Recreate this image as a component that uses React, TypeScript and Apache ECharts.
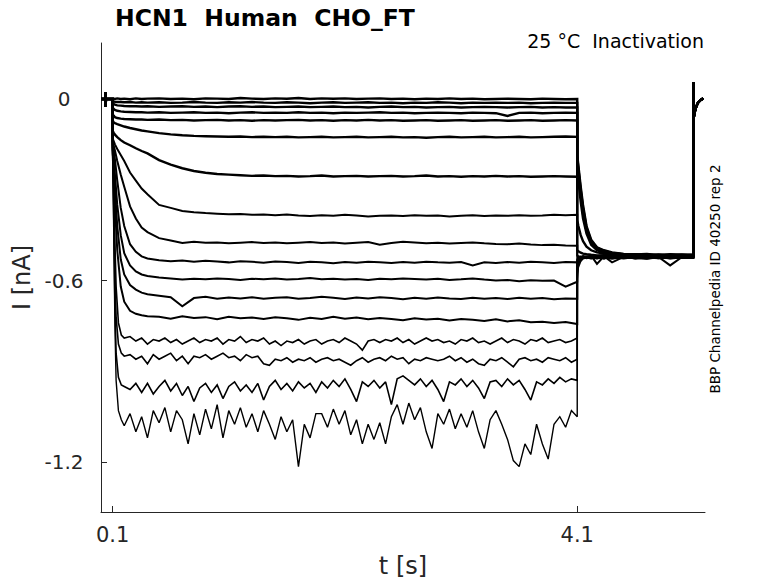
import React, { useEffect, useRef } from "react";
import * as echarts from "echarts";

// ---- tick labels ----
const X_TICKS = [0.1, 4.1];
const Y_TICKS = [0, -0.6, -1.2];

// ---- holding segment before the step (shared by every sweep) ----
const PRE_T = [0, 0.039, 0.04, 0.041, 0.042, 0.1];
const PRE_V = [0, 0, 0.023, -0.026, 0, 0];

// ---- time grids of the test pulse (s) ----
const GRID_A = [
  0.1, 0.11, 0.12, 0.14, 0.17, 0.2, 0.25, 0.3, 0.35, 0.4,
  0.5, 0.6, 0.7, 0.8, 0.9, 1.0, 1.1, 1.2, 1.3, 1.4,
  1.5, 1.6, 1.7, 1.8, 1.9, 2.0, 2.1, 2.2, 2.3, 2.4,
  2.5, 2.6, 2.7, 2.8, 2.9, 3.0, 3.1, 3.2, 3.3, 3.4,
  3.5, 3.6, 3.7, 3.8, 3.9, 4.0, 4.1,
];
const GRID_B = [
  0.1, 0.11, 0.12, 0.13, 0.15, 0.175, 0.2, 0.25, 0.3, 0.35,
  0.4, 0.45, 0.5, 0.55, 0.6, 0.65, 0.7, 0.75, 0.8, 0.85,
  0.9, 0.95, 1.0, 1.05, 1.1, 1.15, 1.2, 1.25, 1.3, 1.35,
  1.4, 1.45, 1.5, 1.55, 1.6, 1.65, 1.7, 1.75, 1.8, 1.85,
  1.9, 1.95, 2.0, 2.05, 2.1, 2.15, 2.2, 2.25, 2.3, 2.35,
  2.4, 2.45, 2.5, 2.55, 2.6, 2.65, 2.7, 2.75, 2.8, 2.85,
  2.9, 2.95, 3.0, 3.05, 3.1, 3.15, 3.2, 3.25, 3.3, 3.35,
  3.4, 3.45, 3.5, 3.55, 3.6, 3.65, 3.7, 3.75, 3.8, 3.85,
  3.9, 3.95, 4.0, 4.05, 4.1,
];

// ---- pulse currents (nA), sweeps 1..13 on GRID_A ----
const PULSE_01 = [
  0, 0.001, 0, 0.002, 0, 0.001, -0.001, 0.002, 0, 0.001,
  0.002, 0, 0.001, -0.001, 0.002, 0.001, 0, 0.003, 0.001, 0,
  0.002, 0.001, 0.003, 0, 0.002, 0.001, 0.002, 0, 0.001, 0.002,
  0, 0.001, -0.001, 0.001, 0, 0.002, 0, 0.001, -0.001, 0,
  0.001, 0, -0.001, 0.001, 0, -0.001, 0,
];
const PULSE_02 = [
  -0.006, -0.008, -0.009, -0.01, -0.01, -0.011, -0.01, -0.012, -0.011, -0.012,
  -0.011, -0.013, -0.012, -0.01, -0.012, -0.013, -0.011, -0.012, -0.01, -0.012,
  -0.013, -0.011, -0.012, -0.014, -0.012, -0.011, -0.013, -0.012, -0.011, -0.013,
  -0.012, -0.014, -0.012, -0.013, -0.011, -0.012, -0.014, -0.012, -0.013, -0.012,
  -0.013, -0.012, -0.014, -0.013, -0.012, -0.013, -0.013,
];
const PULSE_03 = [
  -0.014, -0.017, -0.019, -0.021, -0.022, -0.023, -0.024, -0.024, -0.025, -0.024,
  -0.026, -0.025, -0.024, -0.026, -0.025, -0.027, -0.025, -0.024, -0.026, -0.025,
  -0.027, -0.026, -0.025, -0.027, -0.026, -0.025, -0.027, -0.026, -0.028, -0.026,
  -0.025, -0.027, -0.026, -0.028, -0.027, -0.026, -0.028, -0.027, -0.026, -0.027,
  -0.028, -0.027, -0.026, -0.028, -0.027, -0.028, -0.028,
];
const PULSE_04 = [
  -0.028, -0.033, -0.036, -0.039, -0.041, -0.042, -0.043, -0.044, -0.044, -0.045,
  -0.044, -0.046, -0.045, -0.044, -0.046, -0.045, -0.047, -0.045, -0.044, -0.046,
  -0.045, -0.046, -0.044, -0.046, -0.045, -0.047, -0.045, -0.046, -0.045, -0.044,
  -0.046, -0.045, -0.047, -0.046, -0.045, -0.046, -0.047, -0.045, -0.046, -0.047,
  -0.056, -0.046, -0.045, -0.047, -0.046, -0.045, -0.046,
];
const PULSE_05 = [
  -0.05, -0.056, -0.06, -0.063, -0.065, -0.066, -0.067, -0.068, -0.068, -0.069,
  -0.068, -0.07, -0.069, -0.071, -0.07, -0.069, -0.071, -0.07, -0.072, -0.07,
  -0.071, -0.07, -0.069, -0.071, -0.07, -0.072, -0.07, -0.071, -0.069, -0.071,
  -0.07, -0.072, -0.071, -0.07, -0.072, -0.071, -0.07, -0.072, -0.071, -0.07,
  -0.072, -0.071, -0.07, -0.072, -0.071, -0.07, -0.071,
];
const PULSE_06 = [
  -0.07, -0.078, -0.08, -0.083, -0.087, -0.091, -0.096, -0.1, -0.104, -0.107,
  -0.113, -0.117, -0.12, -0.122, -0.123, -0.124, -0.125, -0.124, -0.126, -0.125,
  -0.126, -0.125, -0.127, -0.126, -0.125, -0.127, -0.126, -0.125, -0.127, -0.126,
  -0.125, -0.127, -0.126, -0.128, -0.126, -0.125, -0.127, -0.126, -0.125, -0.127,
  -0.126, -0.125, -0.127, -0.126, -0.125, -0.124, -0.125,
];
const PULSE_07 = [
  -0.105, -0.112, -0.118, -0.126, -0.136, -0.144, -0.153, -0.163, -0.172, -0.18,
  -0.202, -0.217, -0.229, -0.238, -0.244, -0.248, -0.25, -0.252, -0.254, -0.253,
  -0.255, -0.254, -0.256, -0.255, -0.253, -0.256, -0.255, -0.254, -0.256, -0.255,
  -0.254, -0.256, -0.255, -0.253, -0.256, -0.255, -0.257, -0.255, -0.256, -0.254,
  -0.256, -0.255, -0.257, -0.256, -0.255, -0.256, -0.257,
];
const PULSE_08 = [
  -0.13, -0.14, -0.15, -0.165, -0.185, -0.205, -0.243, -0.27, -0.296, -0.315,
  -0.35, -0.36, -0.37, -0.374, -0.377, -0.379, -0.381, -0.38, -0.383, -0.382,
  -0.384, -0.382, -0.385, -0.387, -0.384, -0.386, -0.383, -0.385, -0.388, -0.386,
  -0.385, -0.387, -0.384, -0.386, -0.385, -0.388, -0.386, -0.384, -0.387, -0.385,
  -0.386, -0.384, -0.386, -0.385, -0.383, -0.384, -0.383,
];
const PULSE_09 = [
  -0.14, -0.155, -0.17, -0.205, -0.25, -0.29, -0.355, -0.395, -0.425, -0.44,
  -0.46, -0.468, -0.476, -0.472, -0.475, -0.474, -0.477, -0.475, -0.473, -0.476,
  -0.474, -0.477, -0.475, -0.473, -0.476, -0.474, -0.478, -0.475, -0.473, -0.482,
  -0.476, -0.472, -0.474, -0.477, -0.475, -0.478, -0.476, -0.474, -0.477, -0.479,
  -0.48, -0.478, -0.481, -0.483, -0.482, -0.484, -0.485,
];
const PULSE_10 = [
  -0.15, -0.17, -0.2, -0.27, -0.36, -0.42, -0.48, -0.505, -0.52, -0.527,
  -0.533, -0.536, -0.534, -0.538, -0.535, -0.537, -0.54, -0.536, -0.538, -0.541,
  -0.537, -0.539, -0.542, -0.538, -0.54, -0.543, -0.539, -0.541, -0.538, -0.54,
  -0.542, -0.539, -0.541, -0.538, -0.54, -0.541, -0.539, -0.55, -0.54, -0.542,
  -0.539, -0.541, -0.538, -0.54, -0.542, -0.539, -0.54,
];
const PULSE_11 = [
  -0.16, -0.2, -0.25, -0.35, -0.45, -0.51, -0.55, -0.57, -0.58, -0.585,
  -0.59, -0.593, -0.597, -0.594, -0.596, -0.593, -0.595, -0.598, -0.594, -0.596,
  -0.593, -0.597, -0.595, -0.592, -0.596, -0.594, -0.597, -0.595, -0.598, -0.594,
  -0.596, -0.593, -0.595, -0.597, -0.594, -0.598, -0.596, -0.593, -0.597, -0.6,
  -0.598, -0.602, -0.599, -0.601, -0.6, -0.62, -0.604,
];
const PULSE_12 = [
  -0.17, -0.23, -0.3, -0.42, -0.53, -0.58, -0.615, -0.63, -0.64, -0.645,
  -0.65, -0.655, -0.685, -0.658, -0.654, -0.66, -0.656, -0.659, -0.655, -0.66,
  -0.657, -0.655, -0.66, -0.658, -0.654, -0.657, -0.661, -0.656, -0.659, -0.655,
  -0.658, -0.662, -0.657, -0.66, -0.656, -0.659, -0.661, -0.657, -0.66, -0.658,
  -0.661, -0.657, -0.66, -0.658, -0.662, -0.659, -0.66,
];
const PULSE_13 = [
  -0.18, -0.26, -0.35, -0.5, -0.62, -0.67, -0.7, -0.71, -0.715, -0.718,
  -0.72, -0.726, -0.718, -0.724, -0.721, -0.728, -0.72, -0.725, -0.722, -0.727,
  -0.721, -0.725, -0.73, -0.723, -0.727, -0.72, -0.726, -0.722, -0.728, -0.724,
  -0.727, -0.731, -0.725, -0.729, -0.726, -0.732, -0.727, -0.73, -0.734, -0.728,
  -0.735, -0.731, -0.738, -0.736, -0.74, -0.737, -0.744,
];

// ---- pulse currents (nA), noisier sweeps 14..17 on GRID_B ----
const PULSE_14 = [
  -0.14, -0.3, -0.48, -0.62, -0.74, -0.78, -0.79, -0.785, -0.8, -0.79,
  -0.81, -0.795, -0.8, -0.79, -0.805, -0.795, -0.81, -0.8, -0.79, -0.805,
  -0.795, -0.8, -0.79, -0.81, -0.795, -0.8, -0.785, -0.805, -0.795, -0.8,
  -0.79, -0.81, -0.8, -0.815, -0.8, -0.805, -0.795, -0.81, -0.8, -0.795,
  -0.81, -0.8, -0.795, -0.805, -0.79, -0.8, -0.81, -0.83, -0.8, -0.795,
  -0.805, -0.795, -0.8, -0.79, -0.805, -0.795, -0.81, -0.8, -0.79, -0.8,
  -0.795, -0.805, -0.8, -0.81, -0.795, -0.8, -0.79, -0.805, -0.8, -0.81,
  -0.8, -0.79, -0.805, -0.795, -0.8, -0.81, -0.795, -0.8, -0.79, -0.805,
  -0.8, -0.795, -0.805, -0.8, -0.79,
];
const PULSE_15 = [
  -0.15, -0.35, -0.58, -0.72, -0.81, -0.84, -0.85, -0.845, -0.86, -0.85,
  -0.875, -0.845, -0.86, -0.85, -0.84, -0.865, -0.85, -0.875, -0.85, -0.855,
  -0.845, -0.86, -0.85, -0.84, -0.855, -0.85, -0.865, -0.845, -0.855, -0.85,
  -0.875, -0.88, -0.86, -0.865, -0.855, -0.87, -0.86, -0.865, -0.855, -0.87,
  -0.86, -0.855, -0.865, -0.86, -0.87, -0.88, -0.865, -0.855, -0.87, -0.86,
  -0.855, -0.865, -0.85, -0.86, -0.855, -0.875, -0.86, -0.865, -0.855, -0.86,
  -0.865, -0.86, -0.85, -0.865, -0.855, -0.87, -0.86, -0.875, -0.88, -0.86,
  -0.865, -0.855, -0.87, -0.885, -0.86, -0.855, -0.865, -0.86, -0.87, -0.855,
  -0.86, -0.865, -0.855, -0.87, -0.86,
];
const PULSE_16 = [
  -0.155, -0.4, -0.68, -0.84, -0.92, -0.945, -0.95, -0.96, -0.94, -0.97,
  -0.94, -0.975, -0.95, -0.93, -0.965, -0.94, -0.98, -0.95, -1.0, -0.955,
  -0.94, -0.97, -0.945, -0.99, -0.95, -0.935, -0.965, -0.945, -0.97, -0.94,
  -0.995, -0.95, -0.93, -0.96, -0.94, -0.965, -0.935, -0.955, -0.94, -0.97,
  -0.935, -0.955, -0.93, -0.95, -0.925, -0.96, -1.0, -0.935, -0.95, -0.93,
  -0.955, -0.935, -1.01, -0.925, -0.915, -0.93, -0.945, -0.925, -0.95, -0.93,
  -0.96, -1.0, -0.935, -0.945, -0.925, -0.95, -0.93, -0.955, -0.99, -0.935,
  -0.93, -0.95, -0.925, -0.945, -0.93, -0.96, -0.995, -0.935, -0.945, -0.925,
  -0.94, -0.92, -0.935, -0.925, -0.93,
];
const PULSE_17 = [
  -0.16, -0.45, -0.75, -0.93, -1.03, -1.06, -1.08, -1.04, -1.1, -1.05,
  -1.12, -1.03, -1.07, -1.02, -1.1, -1.03, -1.06, -1.14, -1.04, -1.11,
  -1.025, -1.09, -1.01, -1.12, -1.03, -1.075, -1.02, -1.085, -1.04, -1.1,
  -1.03, -1.075, -1.125, -1.05, -1.1, -1.06, -1.215, -1.075, -1.12, -1.04,
  -1.04, -1.085, -1.025, -1.075, -1.03, -1.11, -1.06, -1.14, -1.075, -1.125,
  -1.07, -1.14, -1.05, -1.01, -1.075, -1.005, -1.06, -1.02, -1.1, -1.155,
  -1.04, -1.075, -1.025, -1.09, -1.04, -1.085, -1.03, -1.1, -1.155, -1.06,
  -1.03, -1.075, -1.125, -1.195, -1.215, -1.14, -1.175, -1.075, -1.14, -1.19,
  -1.075, -1.05, -1.085, -1.03, -1.05,
];

// ---- tail segment (s) and tail currents (nA) ----
const TAIL_T = [4.1, 4.11, 4.13, 4.15, 4.18, 4.22, 4.27, 4.33, 4.4, 4.5, 4.6, 4.7, 4.8, 4.9, 5.0, 5.1];
const TAIL_01 = [-0.185, -0.22, -0.29, -0.35, -0.42, -0.465, -0.49, -0.5, -0.507, -0.512, -0.514, -0.512, -0.516, -0.513, -0.515, -0.514];
const TAIL_02 = [-0.19, -0.23, -0.3, -0.36, -0.425, -0.47, -0.492, -0.502, -0.509, -0.513, -0.515, -0.517, -0.514, -0.516, -0.514, -0.516];
const TAIL_03 = [-0.2, -0.24, -0.31, -0.37, -0.43, -0.473, -0.495, -0.504, -0.51, -0.514, -0.516, -0.513, -0.517, -0.515, -0.518, -0.515];
const TAIL_04 = [-0.21, -0.25, -0.32, -0.38, -0.435, -0.476, -0.497, -0.506, -0.512, -0.515, -0.513, -0.517, -0.515, -0.518, -0.516, -0.517];
const TAIL_05 = [-0.235, -0.27, -0.34, -0.395, -0.445, -0.482, -0.5, -0.508, -0.513, -0.516, -0.518, -0.515, -0.519, -0.516, -0.518, -0.517];
const TAIL_06 = [-0.4, -0.42, -0.45, -0.47, -0.488, -0.5, -0.507, -0.511, -0.514, -0.517, -0.515, -0.519, -0.516, -0.518, -0.52, -0.518];
const TAIL_07 = [-0.5, -0.503, -0.508, -0.511, -0.513, -0.515, -0.517, -0.516, -0.519, -0.517, -0.52, -0.518, -0.521, -0.519, -0.517, -0.519];
const TAIL_08 = [-0.517, -0.52, -0.522, -0.519, -0.521, -0.518, -0.545, -0.52, -0.523, -0.519, -0.521, -0.524, -0.52, -0.522, -0.519, -0.521];
const TAIL_09 = [-0.522, -0.524, -0.521, -0.525, -0.522, -0.52, -0.523, -0.526, -0.522, -0.524, -0.521, -0.523, -0.525, -0.522, -0.524, -0.522];
const TAIL_10 = [-0.527, -0.522, -0.525, -0.521, -0.524, -0.527, -0.523, -0.52, -0.54, -0.522, -0.526, -0.523, -0.521, -0.525, -0.523, -0.522];
const TAIL_11 = [-0.532, -0.527, -0.523, -0.526, -0.522, -0.525, -0.521, -0.524, -0.527, -0.523, -0.525, -0.522, -0.526, -0.524, -0.521, -0.523];
const TAIL_12 = [-0.537, -0.53, -0.525, -0.522, -0.526, -0.523, -0.527, -0.522, -0.525, -0.521, -0.524, -0.527, -0.522, -0.55, -0.523, -0.525];
const TAIL_13 = [-0.542, -0.532, -0.526, -0.524, -0.521, -0.525, -0.522, -0.526, -0.523, -0.527, -0.522, -0.524, -0.526, -0.523, -0.525, -0.522];
const TAIL_14 = [-0.552, -0.537, -0.528, -0.523, -0.526, -0.522, -0.525, -0.528, -0.522, -0.524, -0.527, -0.523, -0.525, -0.522, -0.526, -0.524];
const TAIL_15 = [-0.562, -0.542, -0.53, -0.525, -0.522, -0.526, -0.523, -0.527, -0.524, -0.522, -0.528, -0.525, -0.523, -0.527, -0.524, -0.526];
const TAIL_16 = [-0.577, -0.547, -0.532, -0.526, -0.524, -0.527, -0.522, -0.525, -0.528, -0.523, -0.526, -0.529, -0.524, -0.526, -0.523, -0.525];
const TAIL_17 = [-0.597, -0.557, -0.537, -0.528, -0.525, -0.523, -0.527, -0.524, -0.526, -0.522, -0.525, -0.527, -0.523, -0.528, -0.525, -0.524];

// ---- return to holding (shared) ----
const END_T = [5.1, 5.101, 5.11, 5.125, 5.14, 5.16, 5.185];
const END_V = [0.056, -0.068, -0.045, -0.025, -0.012, -0.004, 0.002];

const PULSES = [
  PULSE_01, PULSE_02, PULSE_03, PULSE_04, PULSE_05, PULSE_06, PULSE_07, PULSE_08, PULSE_09,
  PULSE_10, PULSE_11, PULSE_12, PULSE_13, PULSE_14, PULSE_15, PULSE_16, PULSE_17,
];
const TAILS = [
  TAIL_01, TAIL_02, TAIL_03, TAIL_04, TAIL_05, TAIL_06, TAIL_07, TAIL_08, TAIL_09,
  TAIL_10, TAIL_11, TAIL_12, TAIL_13, TAIL_14, TAIL_15, TAIL_16, TAIL_17,
];

const FONT = "DejaVu Sans";
const INK = "#262626";

function sweepData(i: number): number[][] {
  const pulse = PULSES[i];
  const grid = pulse.length === GRID_B.length ? GRID_B : GRID_A;
  const out: number[][] = [];
  PRE_T.forEach((t, k) => out.push([t, PRE_V[k]]));
  grid.forEach((t, k) => {
    if (k < pulse.length) out.push([t, pulse[k]]);
  });
  TAIL_T.forEach((t, k) => {
    if (k < TAILS[i].length) out.push([t, TAILS[i][k]]);
  });
  END_T.forEach((t, k) => out.push([t, END_V[k]]));
  return out;
}

function widthOf(i: number): number {
  if (i < 7) return 2.4;
  if (i < 13) return 2.0;
  if (i < 16) return 1.6;
  return 1.4;
}

export default function App() {
  const ref = useRef<HTMLDivElement>(null);

  useEffect(() => {
    if (!ref.current) return;
    const chart = echarts.init(ref.current, undefined, { renderer: "svg" });

    const series = PULSES.map((_, i) => ({
      type: "line",
      name: "sweep " + (i + 1),
      data: sweepData(i),
      showSymbol: false,
      symbol: "none",
      silent: true,
      lineStyle: { color: "#000000", width: widthOf(i), join: "miter", miterLimit: 2 },
      clip: true,
    }));

    chart.setOption({
      animation: false,
      backgroundColor: "#ffffff",
      title: {
        text: "HCN1  Human  CHO_FT",
        left: 115,
        top: 6,
        padding: 0,
        textStyle: { fontFamily: FONT, fontSize: 23.5, fontWeight: "bold", color: "#000000" },
      },
      grid: {
        left: 101,
        top: 43,
        right: 73,
        bottom: 71,
        containLabel: false,
        outerBoundsMode: "none",
      },
      xAxis: {
        type: "value",
        min: 0,
        max: 5.2,
        name: "t [s]",
        nameLocation: "middle",
        nameGap: 42,
        nameTextStyle: { fontFamily: FONT, fontSize: 24, color: INK },
        axisLine: { show: true, onZero: false, lineStyle: { color: INK, width: 1 } },
        axisTick: { show: true, inside: true, length: 6, customValues: X_TICKS, lineStyle: { color: INK } },
        axisLabel: {
          customValues: X_TICKS,
          fontFamily: FONT,
          fontSize: 21,
          color: INK,
          margin: 12,
          formatter: (v: number) => String(v),
        },
        splitLine: { show: false },
      },
      yAxis: {
        type: "value",
        min: -1.365,
        max: 0.185,
        name: "I [nA]",
        nameLocation: "middle",
        nameRotate: 90,
        nameGap: 58,
        nameTextStyle: { fontFamily: FONT, fontSize: 24, color: INK },
        axisLine: { show: true, onZero: false, lineStyle: { color: INK, width: 1 } },
        axisTick: { show: true, inside: true, length: 6, customValues: Y_TICKS, lineStyle: { color: INK } },
        axisLabel: {
          customValues: Y_TICKS,
          fontFamily: FONT,
          fontSize: 20,
          color: INK,
          align: "center",
          margin: 37,
          formatter: (v: number) => String(v),
        },
        splitLine: { show: false },
      },
      graphic: [
        {
          type: "text",
          x: 704,
          y: 41,
          style: {
            text: "25 °C  Inactivation",
            fill: "#000000",
            font: `19px "${FONT}"`,
            align: "right",
            verticalAlign: "middle",
          },
        },
        {
          type: "text",
          x: 715,
          y: 279,
          rotation: Math.PI / 2,
          style: {
            text: "BBP Channelpedia ID 40250 rep 2",
            fill: "#000000",
            font: `13.5px "${FONT}"`,
            align: "center",
            verticalAlign: "middle",
          },
        },
      ],
      series,
    });

    return () => chart.dispose();
  }, []);

  return (
    <div
      ref={ref}
      style={{ position: "fixed", left: 0, top: 0, width: 778, height: 583, background: "#fff" }}
    />
  );
}
